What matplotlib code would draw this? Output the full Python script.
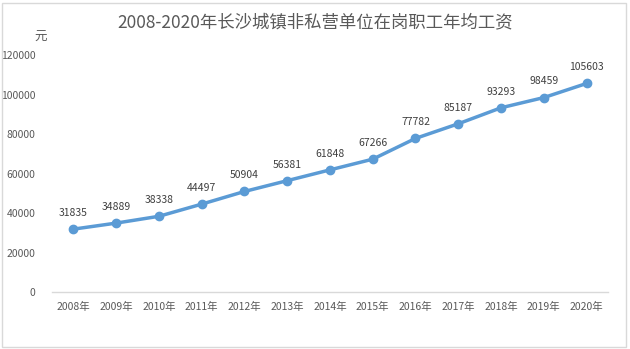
import matplotlib.pyplot as plt
from matplotlib.patches import Rectangle

plt.rcParams['font.family'] = ['Noto Sans CJK SC', 'DejaVu Sans']

years = ['2008年', '2009年', '2010年', '2011年', '2012年', '2013年', '2014年',
         '2015年', '2016年', '2017年', '2018年', '2019年', '2020年']
wages = [31835, 34889, 38338, 44497, 50904, 56381, 61848,
         67266, 77782, 85187, 93293, 98459, 105603]
yticks = [0, 20000, 40000, 60000, 80000, 100000, 120000]

text_color = '#595959'
line_color = '#5B9BD5'

fig = plt.figure(figsize=(6.3, 3.49), dpi=100)
ax = fig.add_axes([0.0825, 0.1633, 0.8825, 0.679])

x = list(range(len(years)))
ax.plot(x, wages, color=line_color, linewidth=2.5, marker='o', markersize=6)

for xi, v in zip(x, wages):
    ax.annotate(str(v), (xi, v), xytext=(0, 8), textcoords='offset points',
                ha='center', va='bottom', fontsize=7.5, color='#404040')

ax.set_xlim(-0.5, len(years) - 0.5)
ax.set_ylim(0, 120000)
ax.set_xticks(x)
ax.set_xticklabels(years)
ax.set_yticks(yticks)
ax.set_yticklabels([str(t) for t in yticks])
ax.tick_params(axis='both', length=0, labelsize=7.5, colors=text_color)
ax.tick_params(axis='x', pad=7)
ax.tick_params(axis='y', pad=12)

for s in ['top', 'right', 'left']:
    ax.spines[s].set_visible(False)
ax.spines['bottom'].set_color('#D9D9D9')
ax.spines['bottom'].set_linewidth(1)

fig.text(0.5, 0.935, '2008-2020年长沙城镇非私营单位在岗职工年均工资',
         ha='center', va='center', fontsize=12.5, color=text_color)
fig.text(0.064, 0.893, '元', ha='center', va='center', fontsize=9, color=text_color)

fig.patches.append(Rectangle((0.003, 0.006), 0.99, 0.985, transform=fig.transFigure,
                             fill=False, edgecolor='#D9D9D9', linewidth=1))

fig.savefig('out.png', dpi=100)
